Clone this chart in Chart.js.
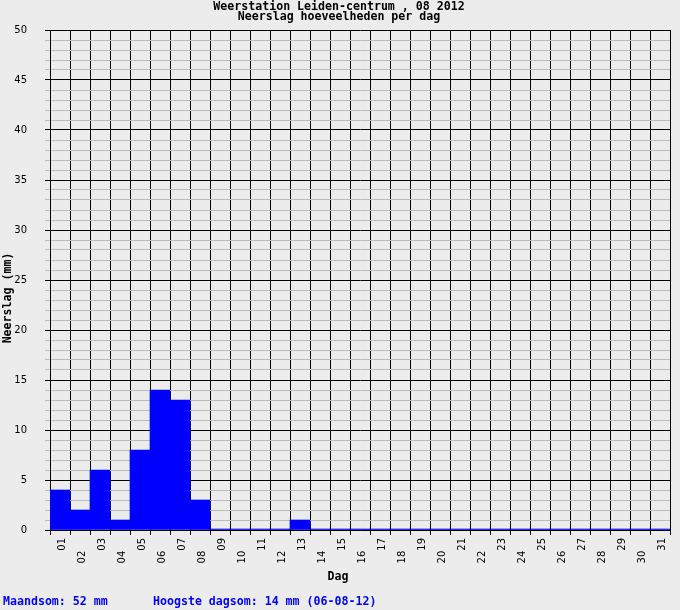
<!DOCTYPE html>
<html>
<head>
<meta charset="utf-8">
<script src="https://cdn.jsdelivr.net/npm/chart.js@4"></script>
<style>
  body { margin: 0; background: #ececec; }
  canvas { display: block; }
</style>
</head>
<body>
<canvas id="neerslag" width="680" height="610"></canvas>
<script>
// dagen van augustus 2012
const days = ['01','02','03','04','05','06','07','08','09','10','11','12','13','14','15','16',
              '17','18','19','20','21','22','23','24','25','26','27','28','29','30','31'];
// neerslag per dag (mm)
const rain = [4, 2, 6, 1, 8, 14, 13, 3, 0, 0, 0, 0, 1, 0, 0, 0,
              0, 0, 0, 0, 0, 0, 0, 0, 0, 0, 0, 0, 0, 0, 0];
const titleLines = ['Weerstation Leiden-centrum , 08 2012', 'Neerslag hoeveelheden per dag'];
const yTitle = 'Neerslag (mm)';
const xTitle = 'Dag';
const footLeft = 'Maandsom: 52 mm';
const footRight = 'Hoogste dagsom: 14 mm (06-08-12)';

const mono = 'bold 11.6px "DejaVu Sans Mono"';

const textPlugin = {
    id: 'texts',
    afterDraw(chart) {
        const c = chart.ctx;
        c.save();
        c.font = mono;
        c.fillStyle = '#000';
        c.textAlign = 'center';
        c.textBaseline = 'middle';
        c.fillText(titleLines[0], 339, 7);
        c.fillText(titleLines[1], 339, 17);
        c.fillText(xTitle, 338, 577);

        c.save();
        c.translate(8, 298);
        c.rotate(-Math.PI / 2);
        c.fillText(yTitle, 0, 0);
        c.restore();

        c.fillStyle = '#0000ff';
        c.textAlign = 'left';
        c.fillText(footLeft, 3, 602);
        c.fillText(footRight, 153, 602);
        c.restore();
    }
};

new Chart(document.getElementById('neerslag'), {
    type: 'bar',
    data: {
        labels: days,
        datasets: [{
            data: rain,
            backgroundColor: '#0000ff',
            borderWidth: 0,
            barPercentage: 1,
            categoryPercentage: 1,
            minBarLength: 1
        }]
    },
    options: {
        responsive: false,
        animation: false,
        devicePixelRatio: 1,
        layout: { padding: { top: 30, right: 10, left: 0, bottom: 0 } },
        plugins: { legend: { display: false }, tooltip: { enabled: false }, title: { display: false } },
        scales: {
            x: {
                afterFit(scale) { scale.height = 80; },
                grid: { offset: true, color: '#000', tickLength: 5 },
                border: { color: '#000' },
                ticks: {
                    autoSkip: false,
                    minRotation: 90,
                    maxRotation: 90,
                    padding: 3,
                    labelOffset: 2,
                    color: '#000',
                    font: { family: 'DejaVu Sans', size: 10 },
                    callback(val, i) {
                        // even days a bit lower, like the original
                        return i % 2 ? days[i] + '\u2007\u2007' : days[i];
                    }
                }
            },
            y: {
                min: 0,
                max: 50,
                afterFit(scale) { scale.width = 50; },
                grid: {
                    tickLength: 5,
                    color: ctx => (ctx.tick && ctx.tick.value % 5 === 0) ? '#000' : '#bbbbbb'
                },
                border: { color: '#000' },
                ticks: {
                    stepSize: 1,
                    autoSkip: false,
                    padding: 18,
                    color: '#000',
                    font: { family: 'DejaVu Sans', size: 10 },
                    callback: v => v % 5 === 0 ? String(v) : ''
                }
            }
        }
    },
    plugins: [textPlugin]
});
</script>
</body>
</html>
